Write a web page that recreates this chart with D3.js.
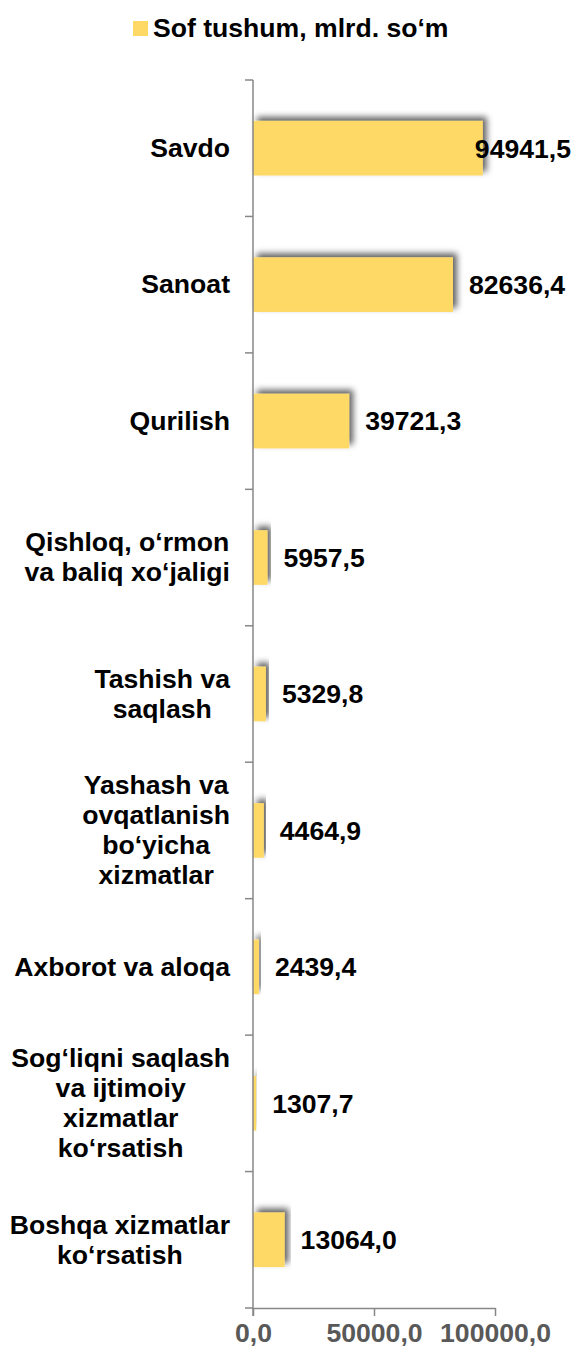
<!DOCTYPE html>
<html>
<head>
<meta charset="utf-8">
<script src="https://cdn.jsdelivr.net/npm/d3@7"></script>
<style>
    html, body { margin: 0; padding: 0; background: #fff; }
    svg { display: block; font-family: "Liberation Sans", Arial, sans-serif; }
</style>
</head>
<body>
<script>
'use strict';

var SERIES_NAME = "Sof tushum, mlrd. so‘m";

// category labels, one array entry per line of text
var CATEGORIES = [
    ["Savdo"],
    ["Sanoat"],
    ["Qurilish"],
    ["Qishloq, o‘rmon", "va baliq xo‘jaligi"],
    ["Tashish va", "saqlash"],
    ["Yashash va", "ovqatlanish", "bo‘yicha", "xizmatlar"],
    ["Axborot va aloqa"],
    ["Sog‘liqni saqlash", "va ijtimoiy", "xizmatlar", "ko‘rsatish"],
    ["Boshqa xizmatlar", "ko‘rsatish"]
];

var VALUES = [94941.5, 82636.4, 39721.3, 5957.5, 5329.8, 4464.9, 2439.4, 1307.7, 13064.0];

var X_TICKS = [0, 50000, 100000];

var width = 576;
var height = 1353;
var margin = {top: 80, right: 81, bottom: 45, left: 253};

var BAR_COLOR = "#FFD966";
var AXIS_COLOR = "#878787";
var FONT_SIZE = 26.6;
var LINE_HEIGHT = 30;

function fmt(v) {
    return d3.format(".1f")(v).replace(".", ",");
}

var svg = d3.select("body").append("svg")
    .attr("width", width)
    .attr("height", height);

// soft shadow up and to the right of every bar
var defs = svg.append("defs");
defs.append("filter")
    .attr("id", "barShadow")
    .attr("x", "-20%").attr("y", "-40%")
    .attr("width", "140%").attr("height", "180%")
    .append("feDropShadow")
    .attr("dx", 4)
    .attr("dy", -4)
    .attr("stdDeviation", 3)
    .attr("flood-color", "#000")
    .attr("flood-opacity", 0.62);

var x = d3.scaleLinear()
    .domain([0, 100000])
    .range([margin.left, 495]);

var ids = d3.range(CATEGORIES.length);
var y = d3.scaleBand()
    .domain(ids)
    .range([margin.top, height - margin.bottom])
    .paddingInner(0.6)
    .paddingOuter(0.3);

var step = y.step();

// bars
svg.append("g").selectAll("rect.bar")
    .data(VALUES)
    .enter()
    .append("rect")
    .attr("class", "bar")
    .attr("x", x(0))
    .attr("y", function (d, i) { return y(i); })
    .attr("width", function (d) { return x(d) - x(0); })
    .attr("height", y.bandwidth())
    .attr("fill", BAR_COLOR)
    .attr("filter", "url(#barShadow)");

// y axis: line with ticks between categories
var gY = svg.append("g")
    .attr("stroke", AXIS_COLOR)
    .attr("stroke-width", 1.5);

var yBottom = height - margin.bottom;
gY.append("line")
    .attr("x1", x(0)).attr("x2", x(0))
    .attr("y1", margin.top).attr("y2", yBottom + 8);

gY.selectAll("line.ytick")
    .data(d3.range(CATEGORIES.length + 1))
    .enter()
    .append("line")
    .attr("class", "ytick")
    .attr("x1", x(0) - 8).attr("x2", x(0))
    .attr("y1", function (i) { return margin.top + i * step; })
    .attr("y2", function (i) { return margin.top + i * step; });

// x axis
var xAxis = d3.axisBottom(x)
    .tickValues(X_TICKS)
    .tickSize(8)
    .tickSizeOuter(0)
    .tickFormat(fmt);

var gX = svg.append("g")
    .attr("transform", "translate(0," + yBottom + ")")
    .call(xAxis);

gX.select(".domain").attr("stroke", AXIS_COLOR).attr("stroke-width", 1.5);
gX.selectAll(".tick line").attr("stroke", AXIS_COLOR).attr("stroke-width", 1.5);
gX.selectAll(".tick text")
    .attr("y", 34)
    .attr("dy", 0)
    .attr("fill", "#595959")
    .style("font-family", "\"Liberation Sans\", Arial, sans-serif")
    .style("font-size", FONT_SIZE + "px")
    .style("font-weight", "bold");

// category labels: each block centred on itself, blocks right-aligned
var labelRight = 230;
var gLabels = svg.append("g")
    .style("font-size", FONT_SIZE + "px")
    .style("font-weight", "bold")
    .attr("fill", "#000");

CATEGORIES.forEach(function (lines, i) {
    var cy = y(i) + y.bandwidth() / 2;
    var first = cy - (lines.length - 1) * LINE_HEIGHT / 2;
    var t = gLabels.append("text")
        .attr("text-anchor", "middle");
    var spans = lines.map(function (line, k) {
        return t.append("tspan")
            .attr("y", first + k * LINE_HEIGHT)
            .attr("dy", "0.33em")
            .text(line);
    });
    var maxW = d3.max(spans, function (s) { return s.node().getComputedTextLength(); });
    spans.forEach(function (s) {
        s.attr("x", labelRight - maxW / 2);
    });
});

// value labels, pushed back inside the picture when they would overflow
svg.append("g").selectAll("text.value")
    .data(VALUES)
    .enter()
    .append("text")
    .attr("class", "value")
    .style("font-size", FONT_SIZE + "px")
    .style("font-weight", "bold")
    .attr("fill", "#000")
    .attr("y", function (d, i) { return y(i) + y.bandwidth() / 2; })
    .attr("dy", "0.35em")
    .text(fmt)
    .attr("x", function (d) {
        var w = this.getComputedTextLength();
        return Math.min(x(d) + 16, width - 5 - w);
    });

// legend
var gLegend = svg.append("g");
gLegend.append("rect")
    .attr("x", 133).attr("y", 21)
    .attr("width", 15).attr("height", 15)
    .attr("fill", BAR_COLOR);
gLegend.append("text")
    .attr("x", 153).attr("y", 37)
    .style("font-size", FONT_SIZE + "px")
    .style("font-weight", "bold")
    .attr("fill", "#000")
    .text(SERIES_NAME);
</script>
</body>
</html>
